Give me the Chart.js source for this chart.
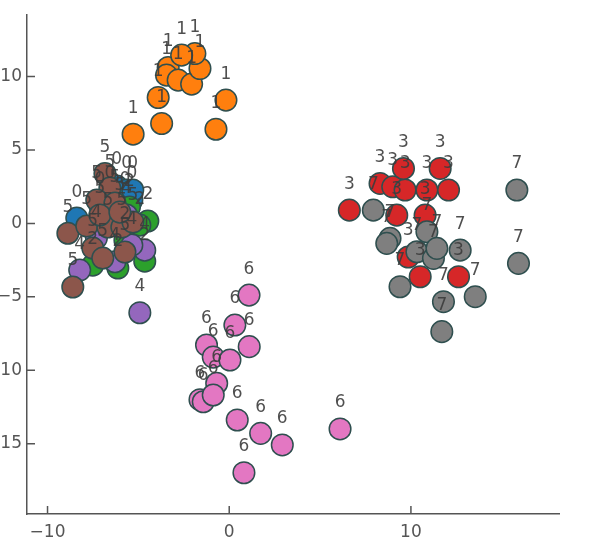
<!DOCTYPE html>
<html>
<head>
<meta charset="UTF-8">
<script src="https://cdn.jsdelivr.net/npm/chart.js@4.4.1/dist/chart.umd.min.js"></script>
<title>Clusters</title>
<style>
    html, body { margin: 0; padding: 0; background: #fff; }
</style>
</head>
<body>
<canvas id="plot" width="591" height="554"></canvas>
<script>
// cluster ids, printed above every point
const clusterIds = ['0', '1', '2', '3', '4', '5', '6', '7'];

// one pair of arrays per cluster
const x0 = [-8.39, -6.19, -5.64, -5.36, -5.74, -6.57, -7.12, -5.31];
const y0 = [0.36, 2.54, 2.27, 1.59, 1.24, 1.59, 1.24, 2.27];

const x1 = [-5.29, -3.72, -0.73, -0.18, -3.91, -3.36, -3.45, -2.81, -2.07, -1.61, -1.89, -2.62];
const y1 = [6.07, 6.80, 6.41, 8.39, 8.57, 10.61, 10.09, 9.75, 9.48, 10.54, 11.56, 11.45];

const x2 = [-4.48, -4.65, -6.13, -7.51, -4.92, -5.49, -5.74];
const y2 = [0.16, -2.57, -3.04, -2.84, -0.12, 1.11, -1.14];

const x3 = [6.61, 8.30, 9.00, 9.68, 9.59, 10.88, 11.61, 12.07, 9.22, 10.78, 10.51, 12.62, 9.85];
const y3 = [0.90, 2.72, 2.49, 2.27, 3.74, 2.27, 3.74, 2.27, 0.56, 0.56, -3.63, -3.63, -2.29];

const x4 = [-8.23, -4.65, -4.92, -5.36, -7.31, -6.29, -5.65];
const y4 = [-3.18, -1.82, -6.08, -1.48, -1.00, -2.61, 0.57];

const x5 = [-6.84, -6.57, -7.29, -6.29, -8.88, -7.84, -6.68, -5.91, -5.30, -7.51, -6.96, -5.74, -8.61, -7.12, -6.02];
const y5 = [3.40, 2.40, 1.59, 1.38, -0.67, -0.18, -0.25, -0.25, 0.09, -1.68, -2.36, -1.95, -4.33, 0.57, 0.77];

const x6 = [1.09, 0.31, 1.10, -1.25, -0.88, 0.04, -0.69, -1.61, -1.43, -0.88, 0.44, 1.73, 2.92, 0.81, 6.10];
const y6 = [-4.88, -6.92, -8.39, -8.28, -9.10, -9.30, -10.88, -12.00, -12.14, -11.68, -13.38, -14.29, -15.08, -16.97, -13.99];

const x7 = [7.93, 8.85, 8.67, 10.88, 10.33, 11.24, 11.43, 12.71, 9.40, 11.79, 13.54, 11.70, 15.83, 15.92];
const y7 = [0.90, -1.02, -1.36, -0.57, -1.93, -2.38, -1.70, -1.82, -4.31, -5.33, -4.99, -7.37, 2.27, -2.72];

const xTicks = [-10, 0, 10];
const yTicks = [-15, -10, -5, 0, 5, 10];

const allX = [x0, x1, x2, x3, x4, x5, x6, x7];
const allY = [y0, y1, y2, y3, y4, y5, y6, y7];
const colors = ['#1f77b4', '#ff7f0e', '#2ca02c', '#d62728', '#9467bd', '#8c564b', '#e377c2', '#7f7f7f'];

const axisColor = '#555';
const font = { family: '"DejaVu Sans", Verdana, sans-serif', size: 17 };

// text label above each marker, drawn after all markers
const pointLabels = {
    id: 'pointLabels',
    afterDatasetsDraw(chart) {
        const ctx = chart.ctx;
        ctx.save();
        ctx.font = '17px "DejaVu Sans", Verdana, sans-serif';
        ctx.fillStyle = 'rgba(60, 60, 60, 0.9)';
        ctx.textAlign = 'center';
        ctx.textBaseline = 'middle';
        chart.data.datasets.forEach((ds, i) => {
            chart.getDatasetMeta(i).data.forEach(pt => {
                ctx.fillText(ds.label, pt.x, pt.y - 26);
            });
        });
        ctx.restore();
    }
};

// short tick marks pointing into the plot
const innerTicks = {
    id: 'innerTicks',
    beforeDatasetsDraw(chart) {
        const { ctx, chartArea, scales } = chart;
        ctx.save();
        ctx.strokeStyle = axisColor;
        ctx.lineWidth = 1.5;
        ctx.beginPath();
        scales.x.ticks.forEach(t => {
            const px = scales.x.getPixelForValue(t.value);
            ctx.moveTo(px, chartArea.bottom);
            ctx.lineTo(px, chartArea.bottom - 8);
        });
        scales.y.ticks.forEach(t => {
            const py = scales.y.getPixelForValue(t.value);
            ctx.moveTo(chartArea.left, py);
            ctx.lineTo(chartArea.left + 8, py);
        });
        ctx.stroke();
        ctx.restore();
    }
};

const datasets = clusterIds.map((id, i) => ({
    label: id,
    data: allX[i].map((x, j) => ({ x: x, y: allY[i][j] })),
    backgroundColor: colors[i],
    borderColor: '#2f4f4f',
    borderWidth: 1.5,
    pointRadius: 10.8,
    pointHoverRadius: 10.8,
    order: clusterIds.length - 1 - i   // later clusters on top
}));

new Chart(document.getElementById('plot'), {
    type: 'scatter',
    data: { datasets: datasets },
    plugins: [innerTicks, pointLabels],
    options: {
        responsive: false,
        animation: false,
        layout: { padding: { top: 15, right: 32, bottom: 0, left: 0 } },
        plugins: {
            legend: { display: false },
            tooltip: { enabled: false }
        },
        scales: {
            x: {
                type: 'linear',
                min: -11.13,
                max: 18.15,
                afterBuildTicks: s => { s.ticks = xTicks.map(v => ({ value: v })); },
                afterFit: s => { s.height = 40; },
                grid: { display: false, drawTicks: false },
                border: { display: true, color: axisColor, width: 1.5 },
                ticks: {
                    font: font,
                    color: axisColor,
                    padding: 8,
                    maxRotation: 0,
                    autoSkip: false,
                    callback: v => v < 0 ? '\u2212' + Math.abs(v) : String(v)
                }
            },
            y: {
                type: 'linear',
                min: -19.78,
                max: 14.17,
                afterBuildTicks: s => { s.ticks = yTicks.map(v => ({ value: v })); },
                afterFit: s => { s.width = 27; },
                grid: { display: false, drawTicks: false },
                border: { display: true, color: axisColor, width: 1.5 },
                ticks: {
                    font: font,
                    color: axisColor,
                    padding: 5,
                    autoSkip: false,
                    callback: v => v < 0 ? '\u2212' + Math.abs(v) : String(v)
                }
            }
        }
    }
});
</script>
</body>
</html>
